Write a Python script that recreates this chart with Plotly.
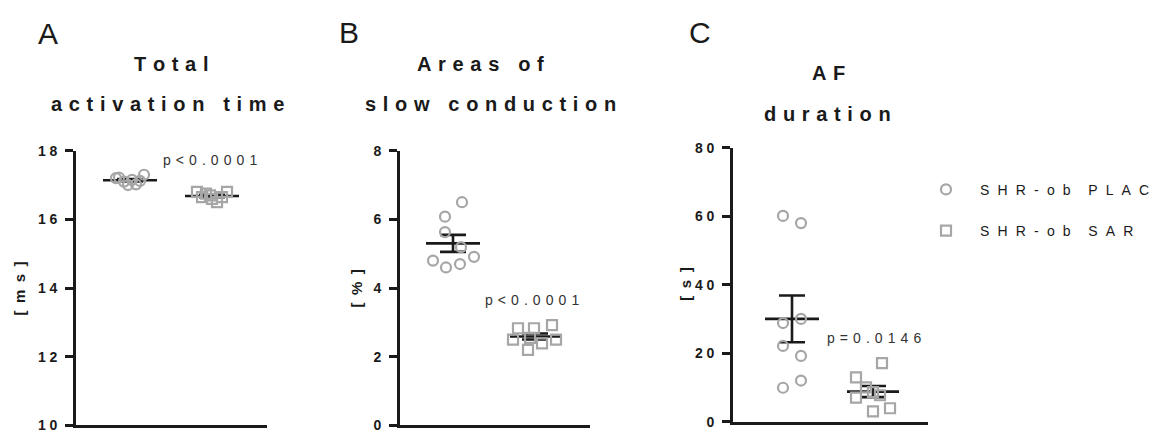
import numpy as np
import plotly.graph_objects as go

W, H = 1155, 446

# ---------------- data ----------------
groups = ["SHR-ob PLAC", "SHR-ob SAR"]

tat_plac = [17.20, 17.10, 17.00, 17.02, 17.12, 17.30, 17.22, 17.15]
tat_sar = [16.80, 16.75, 16.80, 16.65, 16.60, 16.50, 16.65, 16.70]

slow_plac = [6.50, 6.08, 5.63, 5.19, 4.80, 4.60, 4.70, 4.91]
slow_sar = [2.83, 2.83, 2.92, 2.50, 2.20, 2.39, 2.50, 2.55]

af_plac = [60.1, 58.0, 28.8, 30.0, 22.1, 19.2, 9.9, 12.0]
af_sar = [17.1, 12.9, 10.0, 7.0, 7.7, 3.0, 3.9, 8.6]

p_texts = ["p < 0.0001", "p < 0.0001", "p = 0.0146"]
panel_letters = ["A", "B", "C"]
titles = [["Total", "activation time"], ["Areas of", "slow conduction"], ["AF", "duration"]]
y_titles = ["[ms]", "[%]", "[s]"]
y_ticks = [[10, 12, 14, 16, 18], [0, 2, 4, 6, 8], [0, 20, 40, 60, 80]]

# ---------------- layout constants (pixels) ----------------
jit = {
    "A1": [-14, -6, -2, 6, 10, 14, -11, 2],
    "A2": [-15, -6, 15, -10, 0, 5, 10, -2],
    "B1": [9, -8, -8, 8, -20, -7, 7, 21],
    "B2": [-17, -1, 17, -22, -7, 7, 21, -5],
    "C1": [-9, 9, -9, 9, -9, 9, -9, 9],
    "C2": [9, -17, -7, -17, 7, 0, 17, 0],
}
panels = [
    dict(x0=76, x1=267, ytop=148, ybot=433, c=(130, 212), half=(27, 27),
         data=(tat_plac, tat_sar), jk=("A1", "A2"), rng=[10, 18],
         ptxt=(210, 158), letter=(48, 26), t1=(171, 58), t2=(167, 100),
         ytit=(20, 291)),
    dict(x0=400, x1=590, ytop=148, ybot=433, c=(453, 535), half=(27, 25),
         data=(slow_plac, slow_sar), jk=("B1", "B2"), rng=[0, 8],
         ptxt=(532, 303), letter=(349, 25), t1=(480, 58), t2=(490, 100),
         ytit=(357, 291)),
    dict(x0=733, x1=928, ytop=145, ybot=429, c=(792, 873), half=(27, 26),
         data=(af_plac, af_sar), jk=("C1", "C2"), rng=[0, 80],
         ptxt=(874, 342), letter=(700, 25), t1=(828, 67), t2=(827, 110),
         ytit=(686, 287)),
]

GRAY = "#a6a6a6"
INK = "#1a1a1a"
FONT = "Liberation Sans, Arial, sans-serif"


def spaced(s, sep, word_sep="\u00a0"):
    out = []
    for ch in s:
        out.append(word_sep if ch == " " else ch)
    return sep.join([c for c in out if c != ""])


fig = go.Figure()
annotations = []

for i, p in enumerate(panels):
    xa = "x" if i == 0 else f"x{i+1}"
    ya = "y" if i == 0 else f"y{i+1}"
    width_px = p["x1"] - p["x0"]
    symbols = ["circle", "square"]
    for g in range(2):
        vals = np.array(p["data"][g], dtype=float)
        cx = (p["c"][g] - p["x0"]) / width_px
        xs = cx + np.array(jit[p["jk"][g]]) / width_px
        mean = vals.mean()
        sem = vals.std(ddof=1) / np.sqrt(len(vals))
        hw = p["half"][g] / width_px
        # mean line
        fig.add_trace(go.Scatter(
            x=[cx - hw, cx + hw], y=[mean, mean], mode="lines",
            xaxis=xa, yaxis=ya, line=dict(color=INK, width=2.6),
            showlegend=False, hoverinfo="skip"))
        # SEM
        fig.add_trace(go.Scatter(
            x=[cx], y=[mean], mode="markers", xaxis=xa, yaxis=ya,
            marker=dict(size=1, color="rgba(0,0,0,0)"),
            error_y=dict(type="data", array=[sem], visible=True,
                         color=INK, thickness=2.6, width=13),
            showlegend=False, hoverinfo="skip"))
        # points
        fig.add_trace(go.Scatter(
            x=xs, y=vals, mode="markers", xaxis=xa, yaxis=ya,
            marker=dict(symbol=symbols[g], size=10, color="rgba(0,0,0,0)",
                        line=dict(color=GRAY, width=2.2)),
            showlegend=False, hoverinfo="y", cliponaxis=False))

    dom_x = [p["x0"] / W, p["x1"] / W]
    dom_y = [1 - p["ybot"] / H, 1 - p["ytop"] / H]
    xkey = "xaxis" if i == 0 else f"xaxis{i+1}"
    ykey = "yaxis" if i == 0 else f"yaxis{i+1}"
    fig.update_layout(**{
        xkey: dict(domain=dom_x, range=[0, 1], showgrid=False, zeroline=False,
                   showline=True, linecolor=INK, linewidth=3,
                   showticklabels=False, ticks="", anchor=ya, fixedrange=True),
        ykey: dict(domain=dom_y, range=p["rng"], showgrid=False, zeroline=False,
                   showline=True, linecolor=INK, linewidth=3,
                   ticks="outside", ticklen=8, tickwidth=2.5, tickcolor=INK,
                   ticklabelstandoff=5,
                   tickvals=y_ticks[i],
                   ticktext=[spaced(str(v), "\u2005") for v in y_ticks[i]],
                   tickfont=dict(family=FONT, size=14, color=INK, weight="bold"),
                   anchor=xa, fixedrange=True),
    })

    annotations.append(dict(
        x=p["ytit"][0] / W, y=1 - p["ytit"][1] / H,
        xref="paper", yref="paper", text=spaced(y_titles[i], "\u2002"),
        textangle=-90, showarrow=False, xanchor="center", yanchor="middle",
        font=dict(family=FONT, size=15, color=INK, weight="bold")))
    annotations.append(dict(
        x=p["ptxt"][0] / W, y=1 - p["ptxt"][1] / H, xref="paper", yref="paper",
        text=spaced(p_texts[i], "\u00a0\u200a", ""), showarrow=False,
        xanchor="center", yanchor="middle",
        font=dict(family=FONT, size=14, color="#333333")))
    annotations.append(dict(
        x=p["letter"][0] / W, y=1 - p["letter"][1] / H, xref="paper", yref="paper",
        text=panel_letters[i], showarrow=False, xanchor="center", yanchor="middle",
        font=dict(family=FONT, size=30, color=INK)))
    for t, pos in zip(titles[i], (p["t1"], p["t2"])):
        annotations.append(dict(
            x=pos[0] / W, y=1 - pos[1] / H, xref="paper", yref="paper",
            text=spaced(t, "\u2004", "\u00a0"), showarrow=False,
            xanchor="center", yanchor="middle",
            font=dict(family=FONT, size=20, color=INK, weight="bold")))

for g, sym in enumerate(["circle", "square"]):
    fig.add_trace(go.Scatter(
        x=[None], y=[None], mode="markers",
        name="\u2002\u2002" + spaced(groups[g], "\u2002\u200a", "\u200a"),
        legendgroup=groups[g],
        marker=dict(symbol=sym, size=10, color="rgba(0,0,0,0)",
                    line=dict(color=GRAY, width=2.2))))

fig.update_layout(
    width=W, height=H, margin=dict(l=0, r=0, t=0, b=0),
    paper_bgcolor="white", plot_bgcolor="white",
    annotations=annotations,
    showlegend=True,
    legend=dict(x=926 / W, y=1 - 172 / H, xanchor="left", yanchor="top",
                font=dict(family=FONT, size=14, color=INK),
                tracegroupgap=20, bgcolor="rgba(0,0,0,0)", itemclick=False),
)

fig.write_html("out.html", config={"displayModeBar": False},
               post_script="document.body.style.margin='0px';document.body.style.overflow='hidden';")
